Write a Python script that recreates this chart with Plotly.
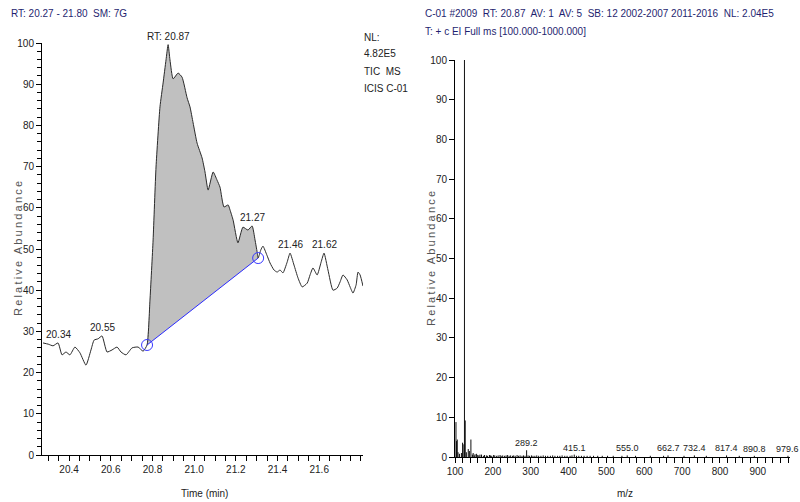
import plotly.graph_objects as go

# ---------------- Chromatogram (left) ----------------
rt_time = [20.275, 20.30, 20.323, 20.347, 20.366, 20.385, 20.404, 20.428, 20.452, 20.481,
           20.505, 20.52, 20.539, 20.558, 20.582, 20.606, 20.63, 20.649, 20.673, 20.702,
           20.731, 20.755, 20.774, 20.788, 20.803, 20.817, 20.836, 20.851, 20.865, 20.875,
           20.884, 20.899, 20.923, 20.942, 20.966, 20.98, 20.995, 21.014, 21.038, 21.052,
           21.067, 21.091, 21.11, 21.124, 21.143, 21.163, 21.172, 21.187, 21.21, 21.234,
           21.258, 21.278, 21.292, 21.302, 21.307, 21.32, 21.33, 21.349, 21.364, 21.383,
           21.398, 21.412, 21.426, 21.446, 21.46, 21.479, 21.498, 21.518, 21.542, 21.556,
           21.57, 21.59, 21.609, 21.623, 21.642, 21.666, 21.686, 21.70, 21.714, 21.734,
           21.748, 21.762, 21.777, 21.786, 21.796, 21.81]
rt_abund = [27.2, 26.9, 26.5, 27.2, 24.3, 25.0, 24.3, 26.2, 24.8, 21.8,
            25.5, 27.9, 28.2, 28.9, 25.0, 25.5, 26.2, 25.0, 24.3, 26.0,
            26.2, 25.2, 26.7, 37.6, 52.2, 69.9, 84.5, 90.3, 95.9, 99.6,
            95.9, 91.3, 92.7, 91.7, 86.7, 84.5, 80.6, 75.7, 72.1, 68.7,
            64.3, 68.7, 66.7, 65.0, 60.2, 60.7, 59.5, 57.0, 51.5, 55.3,
            54.6, 55.6, 52.2, 49.3, 47.8, 49.8, 50.7, 48.5, 46.6, 44.9,
            44.4, 44.9, 44.2, 46.8, 49.0, 46.1, 43.0, 40.8, 41.7, 43.7,
            45.4, 43.7, 46.8, 49.0, 44.9, 40.0, 40.5, 42.0, 43.7, 42.5,
            40.8, 39.3, 41.3, 44.4, 43.7, 41.0]

peak_start = 20.774
peak_end = 21.307

peak_labels = ["20.34", "20.55", "RT: 20.87", "21.27", "21.46", "21.62"]
peak_label_t = [20.347, 20.558, 20.875, 21.278, 21.46, 21.623]
peak_label_v = [27.2, 28.9, 99.6, 55.6, 49.0, 49.0]

rt_ticks = [20.4, 20.6, 20.8, 21.0, 21.2, 21.4, 21.6]

# ---------------- Mass spectrum (right) ----------------
ms_mz = [102.6, 104, 106, 108, 112, 117, 120, 123.5, 125, 127, 130, 135, 138, 142, 148,
         157, 166]
ms_int = [8.8, 4.0, 4.4, 1.2, 0.8, 1.0, 3.6, 3.2, 100, 9.2, 1.2, 2.0, 1.5, 4.4, 1.0,
          0.8, 0.6]
noise_mz = [146, 151, 153, 160, 163, 170, 175, 178, 183, 186, 191, 194, 197, 202, 205,
            210, 214, 219, 222, 226, 231, 235, 239, 243, 247, 252, 255, 259, 264, 268,
            272, 277, 281, 285, 293, 297, 302, 306, 311, 316, 321, 327, 333, 339, 345,
            352, 358, 364, 371, 377, 383, 390, 396, 404, 409, 421, 427, 434, 441, 449,
            457, 466, 477, 489, 503, 518, 541, 577, 616, 651, 705, 764, 851]
noise_int = [0.6, 0.4, 0.7, 0.5, 0.4, 0.6, 0.3, 0.5, 0.4, 0.3, 0.5, 0.4, 0.3, 0.5, 0.4,
             0.3, 0.4, 0.5, 0.3, 0.4, 0.3, 0.4, 0.5, 0.3, 0.4, 0.3, 0.4, 0.3, 0.5, 0.3,
             0.4, 0.3, 0.4, 0.3, 0.4, 0.3, 0.4, 0.3, 0.3, 0.4, 0.3, 0.3, 0.4, 0.3, 0.3,
             0.3, 0.4, 0.3, 0.3, 0.3, 0.4, 0.3, 0.3, 0.3, 0.4, 0.3, 0.3, 0.3, 0.3, 0.3,
             0.3, 0.3, 0.3, 0.3, 0.3, 0.3, 0.3, 0.3, 0.3, 0.3, 0.3, 0.3, 0.3]
label_mz = [289.2, 415.1, 555.0, 662.7, 732.4, 817.4, 890.8, 979.6]
label_int = [1.7, 0.6, 0.4, 0.4, 0.4, 0.4, 0.3, 0.3]

ms_ticks = [100, 200, 300, 400, 500, 600, 700, 800, 900]

FONT = "Liberation Sans, Arial, sans-serif"
TXT = "#222222"
BLUE_TXT = "#1f1f70"
W, H = 800, 502


def px(x):
    return x / W


def py(y):
    return 1 - y / H


fig = go.Figure()

# fill under peak (closed polygon; closing segment = baseline)
seg_t = [t for t in rt_time if peak_start <= t <= peak_end]
seg_v = [v for t, v in zip(rt_time, rt_abund) if peak_start <= t <= peak_end]
fig.add_trace(go.Scatter(x=seg_t, y=seg_v, mode="lines", fill="toself",
                         fillcolor="#c0c0c0", line=dict(width=0, shape="spline", smoothing=0.5),
                         hoverinfo="skip", showlegend=False, xaxis="x", yaxis="y"))
# chromatogram trace
fig.add_trace(go.Scatter(x=rt_time, y=rt_abund, mode="lines",
                         line=dict(color="#2a2a2a", width=1, shape="spline", smoothing=0.5),
                         showlegend=False, xaxis="x", yaxis="y"))
# baseline
base_t = [seg_t[0], seg_t[-1]]
base_v = [seg_v[0], seg_v[-1]]
fig.add_trace(go.Scatter(x=base_t, y=base_v, mode="lines+markers",
                         line=dict(color="#2a2aff", width=1),
                         marker=dict(symbol="circle-open", size=11, color="#3a3aff",
                                     line=dict(width=1)),
                         showlegend=False, xaxis="x", yaxis="y"))

# spectrum sticks
all_mz = ms_mz + noise_mz + label_mz
all_int = ms_int + noise_int + label_int
sx, sy = [], []
for m, h in zip(all_mz, all_int):
    sx += [m, m, None]
    sy += [0, h, None]
fig.add_trace(go.Scatter(x=sx, y=sy, mode="lines", line=dict(color="#111111", width=1),
                         showlegend=False, xaxis="x2", yaxis="y2"))

annotations = []
for txt, t, v in zip(peak_labels, peak_label_t, peak_label_v):
    annotations.append(dict(x=t, y=v, xref="x", yref="y", text=txt, showarrow=False,
                            xanchor="center", yanchor="bottom", yshift=1,
                            font=dict(family=FONT, size=10, color=TXT)))
for m, h in zip(label_mz, label_int):
    annotations.append(dict(x=m, y=h, xref="x2", yref="y2", text=f"{m:.1f}", showarrow=False,
                            xanchor="center", yanchor="bottom", yshift=0,
                            font=dict(family=FONT, size=9, color=TXT)))

ylab = "\u2009".join("Relative") + "\u2009\u2009\u2009" + "\u2009".join("Abundance")

# header texts
annotations += [
    dict(x=px(9), y=py(6), xref="paper", yref="paper", xanchor="left", yanchor="top",
         text="RT: 20.27 - 21.80  SM: 7G", showarrow=False,
         font=dict(family=FONT, size=10, color=BLUE_TXT)),
    dict(x=px(423), y=py(6), xref="paper", yref="paper", xanchor="left", yanchor="top",
         text="C-01 #2009  RT: 20.87  AV: 1  AV: 5  SB: 12 2002-2007 2011-2016  NL: 2.04E5",
         showarrow=False, font=dict(family=FONT, size=10, color=BLUE_TXT)),
    dict(x=px(423), y=py(24), xref="paper", yref="paper", xanchor="left", yanchor="top",
         text="T: + c EI Full ms [100.000-1000.000]",
         showarrow=False, font=dict(family=FONT, size=10, color=BLUE_TXT)),
    dict(x=px(362), y=py(30), xref="paper", yref="paper", xanchor="left", yanchor="top",
         text="NL:", showarrow=False, font=dict(family=FONT, size=10, color=TXT)),
    dict(x=px(362), y=py(46), xref="paper", yref="paper", xanchor="left", yanchor="top",
         text="4.82E5", showarrow=False, font=dict(family=FONT, size=10, color=TXT)),
    dict(x=px(362), y=py(64), xref="paper", yref="paper", xanchor="left", yanchor="top",
         text="TIC  MS", showarrow=False, font=dict(family=FONT, size=10, color=TXT)),
    dict(x=px(362), y=py(81), xref="paper", yref="paper", xanchor="left", yanchor="top",
         text="ICIS C-01", showarrow=False, font=dict(family=FONT, size=10, color=TXT)),
    dict(x=px(18), y=py(249), xref="paper", yref="paper", textangle=-90,
         xanchor="center", yanchor="middle", text=ylab, showarrow=False,
         font=dict(family=FONT, size=11, color="#555555")),
    dict(x=px(431), y=py(258), xref="paper", yref="paper", textangle=-90,
         xanchor="center", yanchor="middle", text=ylab, showarrow=False,
         font=dict(family=FONT, size=11, color="#555555")),
    dict(x=px(204), y=py(493), xref="paper", yref="paper", xanchor="center", yanchor="middle",
         text="Time (min)", showarrow=False, font=dict(family=FONT, size=10, color=TXT)),
    dict(x=px(625), y=py(493), xref="paper", yref="paper", xanchor="center", yanchor="middle",
         text="m/z", showarrow=False, font=dict(family=FONT, size=10, color=TXT)),
]

axis_common = dict(showgrid=False, zeroline=False, showline=True, linecolor="#000000",
                   linewidth=1, ticks="outside", ticklen=5, tickcolor="#000000",
                   automargin=False, tickfont=dict(family=FONT, size=10, color=TXT))

fig.update_layout(
    width=W, height=H, margin=dict(l=0, r=0, t=0, b=0, autoexpand=False),
    paper_bgcolor="white", plot_bgcolor="white", showlegend=False,
    xaxis=dict(domain=[px(42), px(363)], range=[20.27, 21.81], tickvals=rt_ticks,
               ticktext=[f"{v:.1f}" for v in rt_ticks], anchor="y",
               minor=dict(dtick=0.05, tick0=20.0, ticks="outside", ticklen=5, tickcolor="#000000"),
               **axis_common),
    yaxis=dict(domain=[py(455), py(43)], range=[0, 100], dtick=10, anchor="x",
               minor=dict(dtick=2, ticks="outside", ticklen=4, tickcolor="#000000"),
               **axis_common),
    xaxis2=dict(domain=[px(455), px(790)], range=[100, 985], tickvals=ms_ticks, anchor="y2",
                minor=dict(dtick=20, tick0=0, ticks="outside", ticklen=5, tickcolor="#000000"),
                **axis_common),
    yaxis2=dict(domain=[py(457), py(60)], range=[0, 100], dtick=10, anchor="x2",
                **axis_common),
    annotations=annotations,
)

fig.write_html("out.html", config={"displayModeBar": False},
               post_script="document.body.style.margin='0';document.body.style.overflow='hidden';")
